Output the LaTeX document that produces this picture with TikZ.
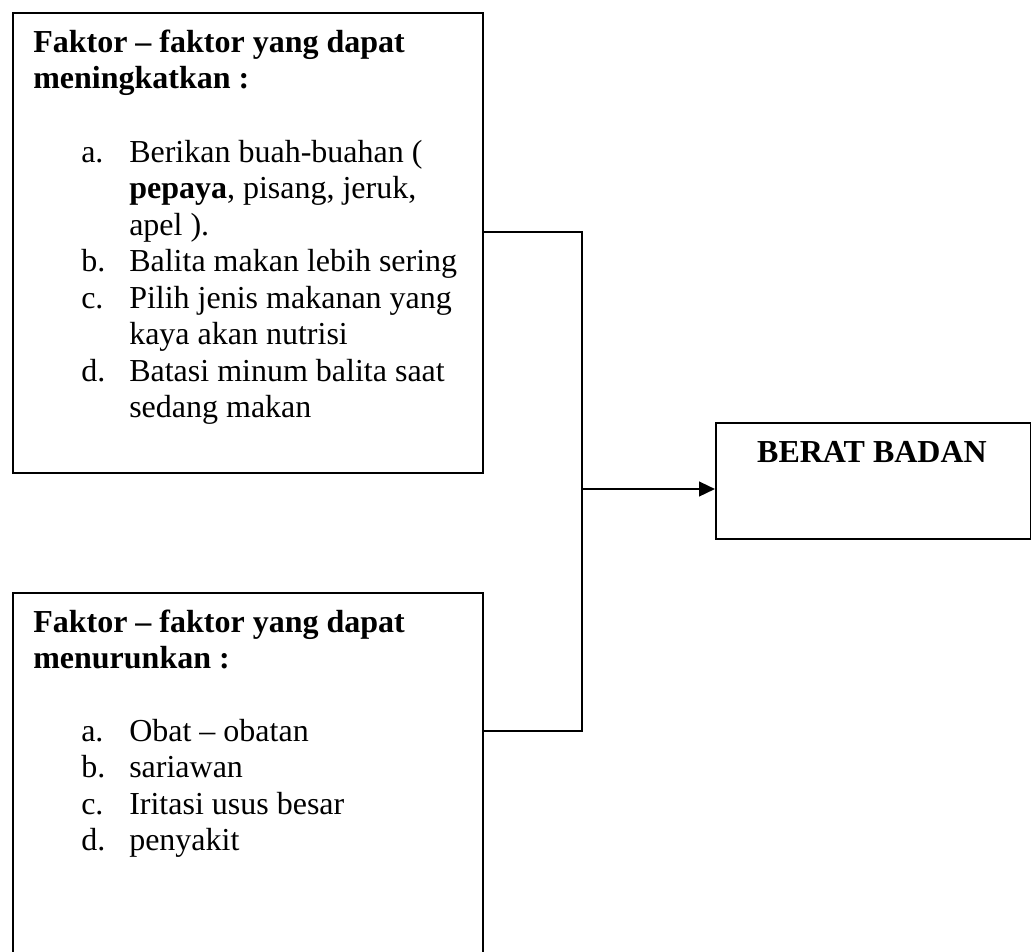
\documentclass[tikz,border=0pt]{standalone}
\usepackage{fontspec}
\setmainfont{Liberation Serif}
\usetikzlibrary{arrows.meta}
\begin{document}
\begin{tikzpicture}[x=0.75pt,y=-0.75pt,
  box/.style={draw=black,line width=1.5pt,rectangle,inner sep=0pt,anchor=north west},
  txt/.style={inner sep=0pt,anchor=base west,font=\fontsize{24pt}{27.4pt}\selectfont},
  hd/.style={txt,font=\fontsize{24pt}{27.4pt}\selectfont\bfseries},
  conn/.style={draw=black,line width=1.1pt},
  arr/.style={draw=black,line width=1.8pt,-{Triangle[length=12pt,width=11pt]}}]
\useasboundingbox (0,0) rectangle (1031,951);
\clip (0,0) rectangle (1031,951);
% boxes
\node[box,minimum width=352.5pt,minimum height=345pt] (b1) at (12,12) {};
\node[box,minimum width=352.5pt,minimum height=290pt] (b2) at (12,592) {};
\node[box,minimum width=236.25pt,minimum height=87pt] (b3) at (715,422) {};
% box 1 text
\node[hd] (h11) at (33,52) {Faktor – faktor yang dapat};
\node[hd] (h12) at (33,88.5) {meningkatkan :};
\node[txt] (la) at (81,162) {a.};
\node[txt] (ia1) at (129,162) {Berikan buah-buahan (};
\node[txt] (ia2) at (129,198.5) {\textbf{pepaya}, pisang, jeruk,};
\node[txt] (ia3) at (129,235) {apel ).};
\node[txt] (lb) at (81,271.5) {b.};
\node[txt] (ib1) at (129,271.5) {Balita makan lebih sering};
\node[txt] (lc) at (81,308) {c.};
\node[txt] (ic1) at (129,308) {Pilih jenis makanan yang};
\node[txt] (ic2) at (129,344.5) {kaya akan nutrisi};
\node[txt] (ld) at (81,381) {d.};
\node[txt] (id1) at (129,381) {Batasi minum balita saat};
\node[txt] (id2) at (129,417.5) {sedang makan};
% box 2 text
\node[hd] (h21) at (33,632) {Faktor – faktor yang dapat};
\node[hd] (h22) at (33,668.5) {menurunkan :};
\node[txt] (ma) at (81,741) {a.};
\node[txt] (ja) at (129,741) {Obat – obatan};
\node[txt] (mb) at (81,777.5) {b.};
\node[txt] (jb) at (129,777.5) {sariawan};
\node[txt] (mc) at (81,814) {c.};
\node[txt] (jc) at (129,814) {Iritasi usus besar};
\node[txt] (md) at (81,850.5) {d.};
\node[txt] (jd) at (129,850.5) {penyakit};
% box 3 text
\node[inner sep=0pt,anchor=base,font=\fontsize{24pt}{27.4pt}\selectfont\bfseries] (t3) at (872,462) {BERAT BADAN};
% connectors
\coordinate (j1) at (582,232);
\coordinate (j2) at (582,731);
\coordinate (jm) at (582,489);
\draw[conn] (b1.east |- j1) -- (j1) -- (j2) -- (b2.east |- j2);
\draw[arr] (jm) -- (b3.west |- jm);
\end{tikzpicture}
\end{document}
